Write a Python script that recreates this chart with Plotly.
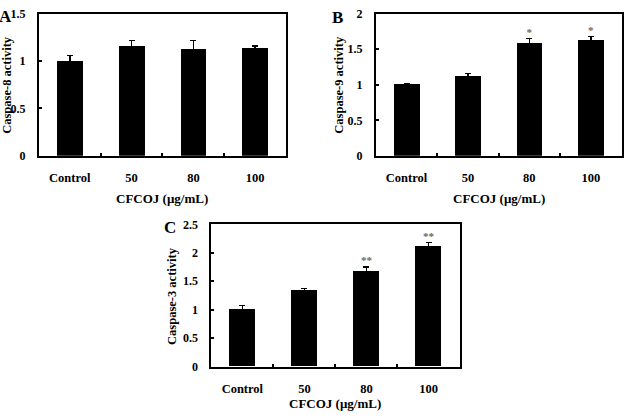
import plotly.graph_objects as go

categories = ["Control", "50", "80", "100"]

casp8 = [1.00, 1.16, 1.13, 1.14]
casp8_err = [0.06, 0.06, 0.09, 0.02]

casp9 = [1.01, 1.13, 1.59, 1.63]
casp9_err = [0.01, 0.03, 0.06, 0.05]
casp9_sig = ["", "", "*", "*"]

casp3 = [1.00, 1.34, 1.68, 2.12]
casp3_err = [0.07, 0.03, 0.07, 0.06]
casp3_sig = ["", "", "**", "**"]

x_title = "CFCOJ (μg/mL)"
FONT = "Liberation Serif, Times New Roman, serif"
W, H = 624, 418

panels = [
    dict(vals=casp8, err=casp8_err, sig=None, ytitle="Caspase-8 activity", letter="A",
         ymax=1.5, xd=(39, 287), yd=(7, 154), ytx=7, lx=6, ly=10, xty=198),
    dict(vals=casp9, err=casp9_err, sig=casp9_sig, ytitle="Caspase-9 activity", letter="B",
         ymax=2.0, xd=(377, 623.5), yd=(7, 154), ytx=340, lx=338.5, ly=11, xty=198),
    dict(vals=casp3, err=casp3_err, sig=casp3_sig, ytitle="Caspase-3 activity", letter="C",
         ymax=2.5, xd=(212, 461), yd=(225, 372), ytx=172, lx=171, ly=228, xty=410),
]

fig = go.Figure()
annotations = []
layout = {}
for i, p in enumerate(panels, start=1):
    xa = "x" if i == 1 else f"x{i}"
    ya = "y" if i == 1 else f"y{i}"
    fig.add_trace(go.Bar(
        x=categories, y=p["vals"], xaxis=xa, yaxis=ya, width=0.42,
        marker=dict(color="black", line=dict(width=0)),
        error_y=dict(type="data", array=p["err"], visible=True, color="black",
                     thickness=1.5, width=3),
        showlegend=False, hoverinfo="skip",
    ))
    if p["sig"]:
        fig.add_trace(go.Scatter(
            x=categories, y=[v + e for v, e in zip(p["vals"], p["err"])],
            text=p["sig"], mode="text", textposition="top center",
            xaxis=xa, yaxis=ya, showlegend=False, hoverinfo="skip", cliponaxis=False,
            textfont=dict(family=FONT, size=11, color="#666666", weight="bold"),
        ))
    xkey = "xaxis" if i == 1 else f"xaxis{i}"
    ykey = "yaxis" if i == 1 else f"yaxis{i}"
    layout[xkey] = dict(
        domain=[p["xd"][0] / W, p["xd"][1] / W], anchor=ya,
        type="category", range=[-0.5, 3.5],
        showline=True, linecolor="black", linewidth=2, mirror=True,
        ticks="inside", tickson="boundaries", ticklen=3, tickwidth=1.5, tickcolor="black",
        showgrid=False, zeroline=False, ticklabelstandoff=9,
        tickfont=dict(family=FONT, size=12.5, color="black", weight="bold"),
    )
    layout[ykey] = dict(
        domain=[1 - p["yd"][1] / H, 1 - p["yd"][0] / H], anchor=xa,
        range=[0, p["ymax"]], dtick=0.5, tick0=0,
        showline=True, linecolor="black", linewidth=2, mirror=True,
        ticks="inside", ticklen=3, tickwidth=1.5, tickcolor="black",
        showgrid=False, zeroline=False, ticklabelstandoff=9,
        tickfont=dict(family=FONT, size=12, color="black", weight="bold"),
    )
    annotations.append(dict(
        text=p["ytitle"], textangle=-90, xref="paper", yref="paper",
        x=p["ytx"] / W, y=1 - (p["yd"][0] + p["yd"][1]) / 2 / H,
        xanchor="center", yanchor="middle", showarrow=False,
        font=dict(family=FONT, size=12.5, color="black", weight="bold"),
    ))
    annotations.append(dict(
        text=x_title, xref="paper", yref="paper",
        x=(p["xd"][0] + p["xd"][0] + 248) / 2 / W, y=1 - p["xty"] / H,
        xanchor="center", yanchor="middle", showarrow=False,
        font=dict(family=FONT, size=13, color="black", weight="bold"),
    ))
    annotations.append(dict(
        text=p["letter"], xref="paper", yref="paper",
        x=p["lx"] / W, y=1 - p["ly"] / H,
        xanchor="center", yanchor="middle", showarrow=False,
        font=dict(family=FONT, size=17, color="black", weight="bold"),
    ))

fig.update_layout(
    width=W, height=H, margin=dict(l=0, r=0, t=0, b=0),
    paper_bgcolor="white", plot_bgcolor="white",
    annotations=annotations, bargap=0, **layout,
)
fig.write_html("out.html")
